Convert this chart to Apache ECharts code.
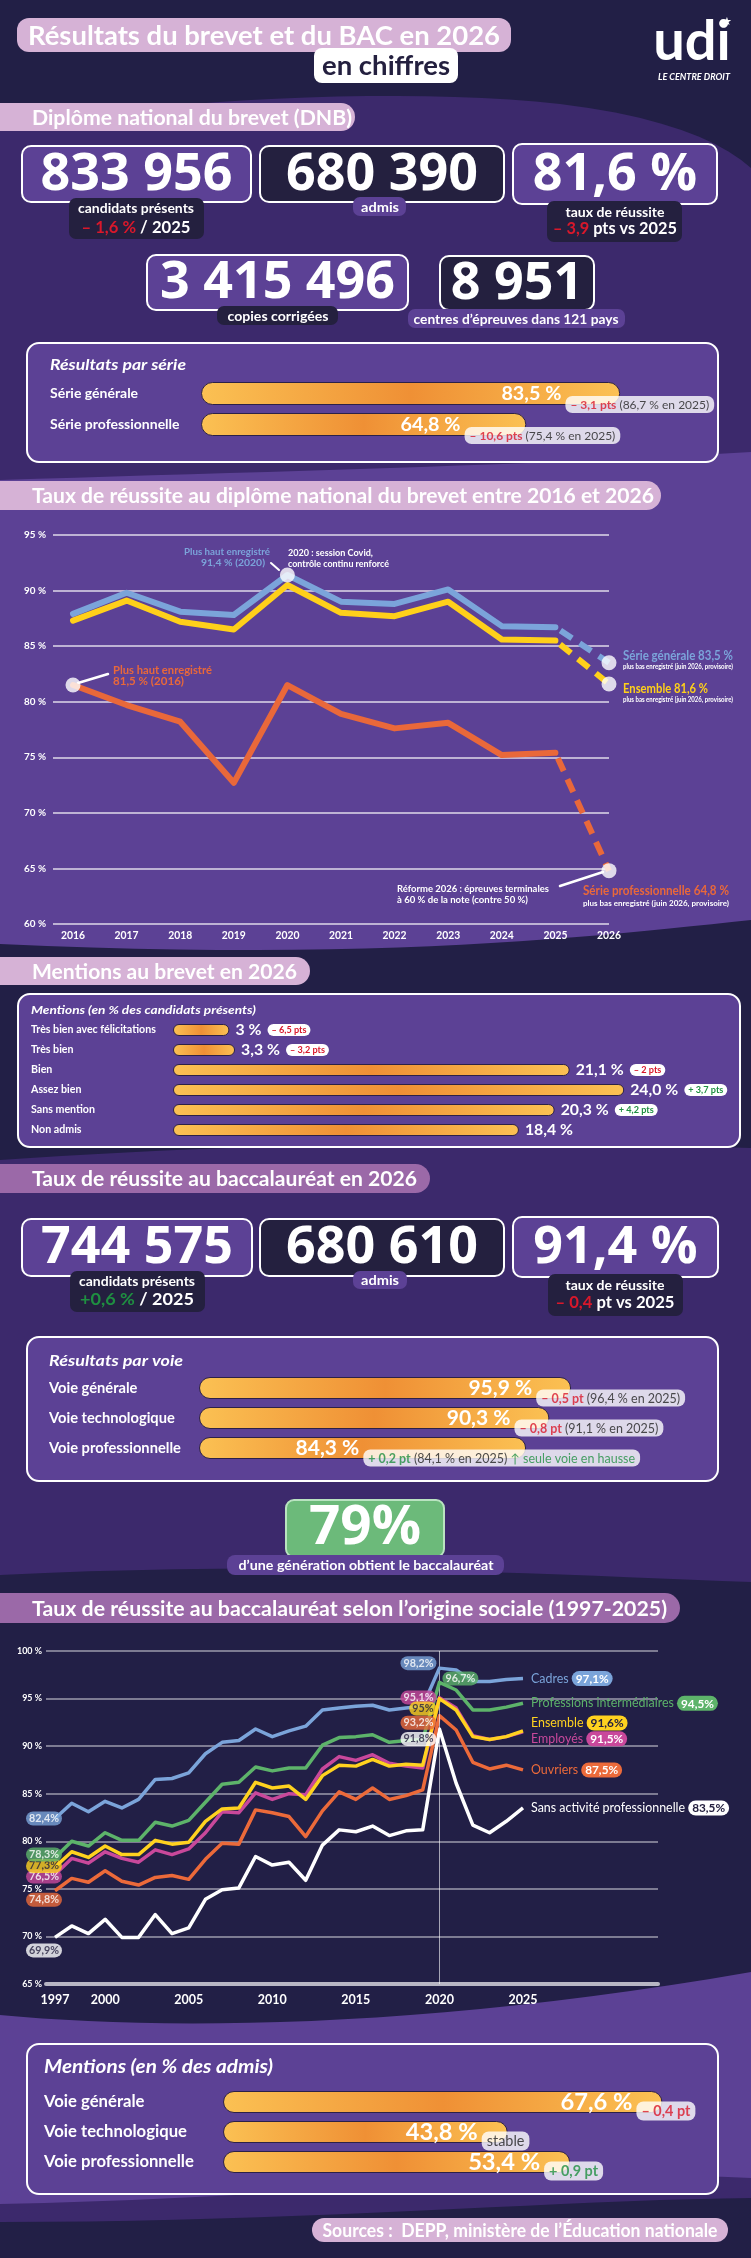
<!DOCTYPE html>
<html><head><meta charset="utf-8">
<script src="https://cdn.jsdelivr.net/npm/echarts@6/dist/echarts.min.js"></script>
<style>html,body{margin:0;padding:0;background:#221f46;}#c{width:751px;height:2258px;}</style>
</head><body><div id="c"></div>
<script>
// ---------- DATA ----------
const dnbYears = [2016, 2017, 2018, 2019, 2020, 2021, 2022, 2023, 2024, 2025, 2026];
const dnbGenerale = [87.9, 89.8, 88.1, 87.8, 91.4, 89.0, 88.8, 90.1, 86.8, 86.7, 83.5];
const dnbEnsemble = [87.3, 89.1, 87.2, 86.5, 90.5, 88.0, 87.7, 89.0, 85.6, 85.5, 81.6];
const dnbPro = [81.5, 79.7, 78.2, 72.7, 81.5, 78.9, 77.6, 78.1, 75.2, 75.4, 64.8];
const dnbYTicks = [60, 65, 70, 75, 80, 85, 90, 95];

const serieCats = ['Série générale', 'Série professionnelle'];
const serieValues = [83.5, 64.8];
const serieLabels = ['83,5 %', '64,8 %'];
const serieDelta = ['– 3,1 pts', '– 10,6 pts'];
const serieRef = [' (86,7 % en 2025)', ' (75,4 % en 2025)'];

const mentionCats = ['Très bien avec félicitations', 'Très bien', 'Bien', 'Assez bien', 'Sans mention', 'Non admis'];
const mentionValues = [3, 3.3, 21.1, 24.0, 20.3, 18.4];
const mentionLabels = ['3 %', '3,3 %', '21,1 %', '24,0 %', '20,3 %', '18,4 %'];
const mentionDelta = ['– 6,5 pts', '– 3,2 pts', '– 2 pts', '+ 3,7 pts', '+ 4,2 pts', ''];

const voieCats = ['Voie générale', 'Voie technologique', 'Voie professionnelle'];
const voieValues = [95.9, 90.3, 84.3];
const voieLabels = ['95,9 %', '90,3 %', '84,3 %'];
const voieDelta = ['– 0,5 pt', '– 0,8 pt', '+ 0,2 pt'];
const voieRef = [' (96,4 % en 2025)', ' (91,1 % en 2025)', ' (84,1 % en 2025)'];
const voieNote = ['', '', ' ↑ seule voie en hausse'];

const socialYears = [1997, 1998, 1999, 2000, 2001, 2002, 2003, 2004, 2005, 2006, 2007, 2008, 2009, 2010, 2011, 2012, 2013, 2014, 2015, 2016, 2017, 2018, 2019, 2020, 2021, 2022, 2023, 2024, 2025];
const socialXTicks = [1997, 2000, 2005, 2010, 2015, 2020, 2025];
const cadres = [82.4, 84.0, 83.1, 84.2, 83.5, 84.4, 86.5, 86.6, 87.2, 89.2, 90.4, 90.6, 91.8, 91.0, 91.6, 92.1, 93.8, 94.0, 94.2, 94.3, 93.8, 94.0, 94.2, 98.2, 98.0, 96.8, 96.8, 97.0, 97.1];
const intermediaires = [78.3, 80.0, 79.5, 80.9, 80.1, 80.1, 82.0, 81.6, 82.2, 84.1, 86.0, 86.2, 87.8, 87.4, 87.7, 87.7, 90.1, 90.9, 91.0, 91.2, 90.4, 90.6, 90.7, 96.7, 95.9, 93.8, 93.8, 94.1, 94.5];
const ensemble = [77.3, 78.9, 78.3, 79.5, 78.6, 78.6, 80.1, 79.7, 79.9, 82.1, 83.4, 83.5, 86.2, 85.6, 85.8, 84.4, 86.9, 88.0, 87.9, 88.6, 87.9, 88.1, 88.0, 95.0, 93.8, 91.0, 90.7, 91.0, 91.6];
const employes = [76.5, 78.2, 77.7, 78.9, 78.2, 77.8, 79.1, 78.6, 79.2, 80.9, 83.1, 83.0, 85.1, 84.4, 85.0, 84.9, 87.6, 88.9, 88.5, 89.1, 88.2, 87.9, 87.7, 95.1, 94.0, 91.1, 90.7, 91.0, 91.5];
const ouvriers = [74.8, 76.1, 75.7, 76.9, 75.8, 75.4, 76.2, 76.4, 76.0, 78.1, 79.8, 79.7, 83.3, 83.0, 82.6, 80.5, 83.2, 85.2, 84.4, 85.6, 84.4, 84.8, 85.4, 93.2, 91.7, 88.3, 87.6, 88.0, 87.5];
const sansActivite = [69.9, 71.1, 70.3, 71.8, 69.9, 69.9, 72.3, 70.3, 70.9, 73.9, 74.9, 75.1, 78.4, 77.5, 77.8, 75.9, 79.6, 81.2, 81.0, 81.6, 80.6, 81.1, 81.2, 91.8, 86.1, 81.7, 80.9, 82.1, 83.5];

const bacMentionCats = ['Voie générale', 'Voie technologique', 'Voie professionnelle'];
const bacMentionValues = [67.6, 43.8, 53.4];
const bacMentionLabels = ['67,6 %', '43,8 %', '53,4 %'];
const bacMentionDelta = ['– 0,4 pt', 'stable', '+ 0,9 pt'];

// ---------- FONTS ----------
function hasFont(n){const c=document.createElement('canvas').getContext('2d');const s='mmmmmmmmmwwwwwwlli1234567';c.font='40px monospace';const a=c.measureText(s).width;c.font='40px "'+n+'", monospace';return Math.abs(c.measureText(s).width-a)>0.5;}
const COND = hasFont('Liberation Sans Narrow') ? '"Liberation Sans Narrow"' : 'Lato';
const FF = COND + ', Lato, sans-serif';
const FN = '"Open Sans", Lato, sans-serif';
const mctx = document.createElement('canvas').getContext('2d');
function measure(t, size, weight, fam){ mctx.font = (weight||'normal') + ' ' + size + 'px ' + (fam||FF); return mctx.measureText(t).width; }
function fit(t, weight, target, maxSize){ const s = 20*target/measure(t,20,weight); return Math.min(s, maxSize||99); }

// ---------- COLOURS ----------
const NAVY='#221f46', PURP='#3c296c', LPURP='#5c4195', PINK='#d6b2d6', MAUVE='#9b69a8', RED='#d9182b', GREEN='#1f8f41', DARK='#24203f';

// ---------- GRAPHIC HELPERS ----------
const G=[];
function R(x,y,w,h,fill,r,stroke,lw){G.push({type:'rect',silent:true,shape:{x:x,y:y,width:w,height:h,r:r||0},style:{fill:fill,stroke:stroke||null,lineWidth:lw||0}});}
function poly(points,fill){G.push({type:'polygon',silent:true,shape:{points:points},style:{fill:fill}});}
function bez(p0,p1,p2,p3,n){const a=[];for(let i=0;i<=n;i++){const t=i/n,u=1-t;a.push([u*u*u*p0[0]+3*u*u*t*p1[0]+3*u*t*t*p2[0]+t*t*t*p3[0],u*u*u*p0[1]+3*u*u*t*p1[1]+3*u*t*t*p2[1]+t*t*t*p3[1]]);}return a;}
// text: size, weight, fill, align, target width (horizontal condensation)
function T(x,y,text,size,weight,fill,align,tw,extra,fam){
  const f=fam||FF;
  const el={type:'text',silent:true,x:x,y:y,style:Object.assign({text:text,font:weight+' '+size+'px '+f,fill:fill||'#fff',textAlign:align||'left',align:align||'left',textVerticalAlign:'middle',verticalAlign:'middle'},extra||{})};
  if(tw){const w=measure((extra&&extra.plain)||text,size,weight,f);el.scaleX=tw/w;}
  if(extra&&extra.plain){delete el.style.plain;}
  G.push(el);
}
function L(x1,y1,x2,y2,color,w){G.push({type:'line',silent:true,shape:{x1:x1,y1:y1,x2:x2,y2:y2},style:{stroke:color,lineWidth:w,lineCap:'round'}});}
function band(x,y,w,h,fill,text,tw){R(x-14,y,w+14,h,fill,[0,h/2,h/2,0]);T(32,y+h/2+1,text,21,'bold','#fff','left',tw);}
function statBox(x,y,w,h,fill,num){R(x,y,w,h,fill,9,'#ffffff',2);T(x+w/2,y+h/2+1,num,52,'bold','#fff','center',null,null,FN);}
function richT(x,y,parts,size,tw){ // parts: [[text,color],...]
  const rich={};let s='',plain='';parts.forEach(function(p,i){rich['p'+i]={fill:p[1],font:'bold '+size+'px '+FF};s+='{p'+i+'|'+p[0]+'}';plain+=p[0];});
  T(x,y,s,size,'bold','#fff','center',tw,{rich:rich,plain:plain});
}

// ---------- BACKGROUND ----------
R(0,0,751,2258,NAVY);
poly([[0,490]].concat(bez([0,128],[150,100],[400,86],[560,104],20)).concat(bez([560,104],[660,116],[720,140],[751,168],10)).concat([[751,490]]),PURP);
poly(bez([0,480],[250,472],[520,466],[751,452],20).concat(bez([751,920],[600,936],[380,962],[0,944],24)),LPURP);
poly(bez([0,1160],[200,1146],[450,1138],[751,1148],20).concat(bez([751,1582],[560,1575],[300,1560],[0,1575],20)),PURP);
poly(bez([0,2015],[160,2030],[420,2030],[751,1972],24).concat(bez([751,2180],[560,2170],[300,2200],[0,2205],20)),LPURP);
poly(bez([0,2204],[300,2198],[560,2168],[751,2178],20).concat(bez([751,2198],[560,2200],[300,2222],[0,2222],20)),PURP);

// ---------- HEADER ----------
R(17,18,494,34,PINK,12);
T(264,36,'Résultats du brevet et du BAC en 2026',27,'bold','#fff','center',472);
R(314,48,144,35,'#ffffff',8);
T(386,66,'en chiffres',27,'bold',DARK,'center',128);
T(692,42,'udi',56,'bold','#fff','center',null,null,'Lato');
T(727,22,'★',11,'normal','#fff','center',null,null,'"DejaVu Sans"');
T(694,77,'LE CENTRE DROIT',9,'italic bold','#fff','center',72);

// ---------- DNB FIGURES ----------
band(0,103,355,28,PINK,'Diplôme national du brevet (DNB)',320);
statBox(22,146,229,56,LPURP,'833 956');
R(69,198,135,41,DARK,7);
T(136,208,'candidats présents',14,'bold','#fff','center',116);
richT(136,228,[['– 1,6 %',RED],[' / 2025','#fff']],17,109);
statBox(260,146,244,56,DARK,'680 390');
R(353,197,53,19,LPURP,7);
T(380,207,'admis',14,'bold','#fff','center',38);
statBox(513,144,204,60,LPURP,'81,6 %');
R(547,201,135,41,DARK,7);
T(615,212,'taux de réussite',14,'bold','#fff','center',99);
richT(615,229,[['– 3,9',RED],[' pts vs 2025','#fff']],17,124);
statBox(147,255,261,55,LPURP,'3 415 496');
R(217,306,121,19,DARK,7);
T(278,316,'copies corrigées',14,'bold','#fff','center',101);
statBox(440,256,154,54,DARK,'8 951');
R(408,309,217,19,LPURP,7);
T(516,319,'centres d’épreuves dans 121 pays',14,'bold','#fff','center',205);

R(27,343,691,119,LPURP,12,'#ffffff',2);
T(50,365,'Résultats par série',15,'italic bold','#fff','left',136);

// ---------- DNB LINE CHART DECOR ----------
band(0,481,661,29,PINK,'Taux de réussite au diplôme national du brevet entre 2016 et 2026',622);
T(270,552,'Plus haut enregistré',10,'bold','#7ba4da','right',86);
T(265,563,'91,4 % (2020)',10,'bold','#7ba4da','right',64);
T(288,553,'2020 : session Covid,',9.5,'bold','#fff','left',85);
T(288,564,'contrôle continu renforcé',9.5,'bold','#fff','left',101);
L(279,570,271,563,'#ffffff',2);
T(113,670,'Plus haut enregistré',12,'bold','#e9683a','left',99);
T(113,681,'81,5 % (2016)',12,'bold','#e9683a','left',71);
L(78,683,108,674,'#ffffff',2.5);
T(623,656,'Série générale 83,5 %',13,'bold','#7ba4da','left',110);
T(623,667,'plus bas enregistré (juin 2026, provisoire)',6.5,'bold','#fff','left',110);
T(623,689,'Ensemble 81,6 %',13,'bold','#ffd01a','left',85);
T(623,700,'plus bas enregistré (juin 2026, provisoire)',6.5,'bold','#fff','left',110);
T(397,889,'Réforme 2026 : épreuves terminales',9.5,'bold','#fff','left',152);
T(397,900,'à 60 % de la note (contre 50 %)',9.5,'bold','#fff','left',131);
L(560,886,603,872,'#ffffff',2.5);
T(583,891,'Série professionnelle 64,8 %',13,'bold','#e9683a','left',146);
T(583,904,'plus bas enregistré (juin 2026, provisoire)',7,'bold','#fff','left',146);

// ---------- MENTIONS BREVET ----------
band(0,957,310,28,PINK,'Mentions au brevet en 2026',265);
R(18,994,722,153,LPURP,12,'#ffffff',2);
T(31,1010,'Mentions (en % des candidats présents)',12,'italic bold','#fff','left',225);

// ---------- BAC FIGURES ----------
band(0,1164,430,29,MAUVE,'Taux de réussite au baccalauréat en 2026',385);
statBox(22,1219,230,57,LPURP,'744 575');
R(70,1271,135,41,DARK,7);
T(137,1281,'candidats présents',14,'bold','#fff','center',116);
richT(137,1300,[['+0,6 %',GREEN],[' / 2025','#fff']],17,114);
statBox(260,1219,244,57,DARK,'680 610');
R(353,1271,54,18,LPURP,7);
T(380,1280,'admis',14,'bold','#fff','center',38);
statBox(513,1217,205,60,LPURP,'91,4 %');
R(548,1274,135,42,DARK,7);
T(615,1285,'taux de réussite',14,'bold','#fff','center',99);
richT(615,1303,[['– 0,4',RED],[' pt vs 2025','#fff']],17,119);
R(27,1337,691,144,LPURP,12,'#ffffff',2);
T(49,1361,'Résultats par voie',15,'italic bold','#fff','left',134);
R(286,1500,158,57,'#6cba7a',8,'#b9e3c0',2);
T(365,1529,'79%',54,'bold','#fff','center',112,null,FN);
R(227,1555,277,20,LPURP,8);
T(366,1565,'d’une génération obtient le baccalauréat',14,'bold','#fff','center',255);

// ---------- SOCIAL ----------
band(0,1593,680,30,MAUVE,'Taux de réussite au baccalauréat selon l’origine sociale (1997-2025)',635);

// ---------- BAC MENTIONS ----------
R(27,2044,691,150,LPURP,12,'#ffffff',2);
T(44,2067,'Mentions (en % des admis)',18,'italic bold','#fff','left',229);
R(312,2218,416,24,PINK,12);
T(520,2231,'Sources :  DEPP, ministère de l’Éducation nationale',18,'bold','#fff','center',395);

// ---------- SERIES ----------
const S=[];
const grids=[], xAxes=[], yAxes=[];
function grid(l,t,w,h){grids.push({left:l,top:t,width:w,height:h,containLabel:false,outerBoundsMode:'none'});return grids.length-1;}

// DNB line chart
const g0 = grid(53,535,556,389);
xAxes.push({gridIndex:g0,type:'value',min:dnbYears[0]-20/53.6,max:dnbYears[dnbYears.length-1],axisLine:{show:false},axisTick:{show:false},splitLine:{show:false},
  axisLabel:{customValues:dnbYears,color:'#fff',fontSize:fit('2016','bold',24,13),fontWeight:'bold',fontFamily:FF,margin:7,formatter:v=>String(Math.round(v))}});
yAxes.push({gridIndex:g0,type:'value',min:dnbYTicks[0],max:dnbYTicks[dnbYTicks.length-1],interval:5,axisLine:{show:false},axisTick:{show:false},
  axisLabel:{color:'#fff',fontSize:fit('95 %','bold',22,12),fontWeight:'bold',fontFamily:FF,margin:7,formatter:'{value} %'},
  splitLine:{lineStyle:{color:'rgba(255,255,255,0.8)',width:1.5}}});
function pairs(xs,ys,a,b){const o=[];for(let i=a;i<=b;i++)o.push([xs[i],ys[i]]);return o;}
const dl=dnbYears.length-1;
[[dnbGenerale,'#7ba4da',3],[dnbEnsemble,'#ffd01a',4],[dnbPro,'#e9683a',4]].forEach(function(c){
  S.push({type:'line',xAxisIndex:g0,yAxisIndex:g0,silent:true,showSymbol:false,symbol:'none',z:c[2],data:pairs(dnbYears,c[0],0,dl-1),lineStyle:{color:c[1],width:6,cap:'round',join:'round'}});
  S.push({type:'line',xAxisIndex:g0,yAxisIndex:g0,silent:true,showSymbol:false,symbol:'none',z:c[2],data:pairs(dnbYears,c[0],dl-1,dl),lineStyle:{color:c[1],width:6,type:[14,9],dashOffset:-6,cap:'butt'}});
});
const gMax = dnbGenerale.indexOf(Math.max.apply(null,dnbGenerale.slice(0,dl)));
S.push({type:'scatter',xAxisIndex:g0,yAxisIndex:g0,silent:true,z:10,symbolSize:15,itemStyle:{color:'#fff'},
  data:[[dnbYears[0],dnbPro[0]],[dnbYears[gMax],dnbGenerale[gMax]],[dnbYears[dl],dnbGenerale[dl]],[dnbYears[dl],dnbEnsemble[dl]],[dnbYears[dl],dnbPro[dl]]]});

// bar helpers
const barGrad={type:'linear',x:0,y:0,x2:1,y2:0,colorStops:[{offset:0,color:'#fbc153'},{offset:0.5,color:'#ef9035'},{offset:1,color:'#fbc153'}]};
function catAxis(gi,cats,size,margin){yAxes.push({gridIndex:gi,type:'category',data:cats,inverse:true,axisLine:{show:false},axisTick:{show:false},splitLine:{show:false},
  axisLabel:{color:'#fff',fontWeight:'bold',fontSize:size,fontFamily:FF,align:'left',margin:margin}});}
function valAxis(gi,max){xAxes.push({gridIndex:gi,type:'value',min:0,max:max,show:false});}
function dcls(d){return d.charAt(0)==='+'?'dg':((d.charAt(0)==='–'||d.charAt(0)==='-')?'dr':'dk');}
function badgeBlock(gi,values,labels,size,barW,bSize,deltas,refs,notes,tail,minInset,dy){
  const widths=values.map(function(v,i){return measure(deltas[i],bSize,'bold')+(refs?measure(refs[i],bSize):0)+(notes?measure(notes[i],bSize):0)+10;});
  const insets=widths.map(function(w){return Math.max(minInset,w-tail);});
  S.push({type:'bar',xAxisIndex:gi,yAxisIndex:gi,silent:true,barWidth:barW,z:3,
    data:values.map(function(v,i){return {value:v,label:{distance:insets[i]}};}),
    itemStyle:{color:barGrad,borderColor:'#2c2148',borderWidth:1,borderRadius:barW/2},
    label:{show:true,position:'insideRight',color:'#fff',fontWeight:'bold',fontSize:size,fontFamily:FF,formatter:function(p){return labels[p.dataIndex];}}});
  S.push({type:'scatter',xAxisIndex:gi,yAxisIndex:gi,silent:true,symbolSize:0,z:6,
    data:values.map(function(v,i){return {value:[v,i],label:{offset:[-insets[i]+4,dy]}};}),
    label:{show:true,position:'right',distance:0,backgroundColor:'#fff',borderRadius:7,padding:[3,5,2,5],
      formatter:function(p){const i=p.dataIndex;let s='{'+dcls(deltas[i])+'|'+deltas[i]+'}';if(refs&&refs[i])s+='{r|'+refs[i]+'}';if(notes&&notes[i])s+='{g|'+notes[i]+'}';return s;},
      rich:{dr:{color:RED,fontWeight:'bold',fontSize:bSize,fontFamily:FF},dg:{color:GREEN,fontWeight:'bold',fontSize:bSize,fontFamily:FF},dk:{color:'#222',fontSize:bSize,fontFamily:FF},
        r:{color:'#222',fontSize:bSize,fontFamily:FF},g:{color:GREEN,fontSize:bSize,fontFamily:FF}}}});
}

// Résultats par série
const g1=grid(201,378,502,62); valAxis(g1,100); catAxis(g1,serieCats,fit('Série professionnelle','bold',134,14),151);
badgeBlock(g1,serieValues,serieLabels,fit('83,5 %','bold',60,21),23,fit('– 3,1 pts (86,7 % en 2025)','normal',142,12),serieDelta,serieRef,null,90,30,11);

// Mentions brevet
const g2=grid(173,1020,564,120); valAxis(g2,30); catAxis(g2,mentionCats,fit('Très bien avec félicitations','bold',125,11),142);
const mbSize=fit('– 6,5 pts','bold',35,10);
S.push({type:'bar',xAxisIndex:g2,yAxisIndex:g2,silent:true,barWidth:12,z:3,data:mentionValues,
  itemStyle:{color:barGrad,borderColor:'#2c2148',borderWidth:1,borderRadius:6},
  label:{show:true,position:'right',distance:6,formatter:function(p){const i=p.dataIndex;let s='{v|'+mentionLabels[i]+'}';if(mentionDelta[i])s+='  {'+(dcls(mentionDelta[i])==='dg'?'bg':'br')+'|'+mentionDelta[i]+'}';return s;},
    rich:{v:{color:'#fff',fontSize:fit('24,0 %','bold',48,16),fontWeight:'bold',fontFamily:FF},
      br:{color:RED,backgroundColor:'#fff',borderRadius:6,padding:[2,4,1,4],fontSize:mbSize,fontWeight:'bold',fontFamily:FF},
      bg:{color:GREEN,backgroundColor:'#fff',borderRadius:6,padding:[2,4,1,4],fontSize:mbSize,fontWeight:'bold',fontFamily:FF}}}});

// Résultats par voie
const g3=grid(199,1373,388,90); valAxis(g3,100); catAxis(g3,voieCats,fit('Voie professionnelle','bold',132,15),150);
badgeBlock(g3,voieValues,voieLabels,fit('95,9 %','bold',64,21),22,fit('– 0,5 pt (96,4 % en 2025)','normal',139,13),voieDelta,voieRef,voieNote,110,27,10);

// Social origin chart
const g4=grid(46,1651,612,333);
xAxes.push({gridIndex:g4,type:'value',min:socialYears[0]-9/16.714,max:2025+135/16.714,splitLine:{show:false},axisTick:{show:false},
  axisLine:{show:true,lineStyle:{color:'#b8b6c4',width:4}},
  axisLabel:{customValues:socialXTicks,color:'#fff',fontSize:fit('2005','bold',29,13),fontWeight:'bold',fontFamily:FF,margin:9,formatter:function(v){return String(Math.round(v));}}});
yAxes.push({gridIndex:g4,type:'value',min:65,max:100,interval:5,axisLine:{show:false},axisTick:{show:false},
  axisLabel:{color:'#fff',fontSize:fit('100 %','bold',25,10),fontWeight:'bold',fontFamily:FF,margin:4,formatter:'{value} %'},
  splitLine:{lineStyle:{color:'rgba(255,255,255,0.55)',width:1.5}}});
const socialCfg=[
  {name:'Sans activité professionnelle',data:sansActivite,color:'#ffffff',txt:DARK,endDy:0,startDy:13,peakDy:10,peakSide:'left'},
  {name:'Ouvriers',data:ouvriers,color:'#ec6a3a',txt:'#fff',endDy:0,startDy:9,peakDy:7,peakSide:'left'},
  {name:'Employés',data:employes,color:'#c9489b',txt:'#fff',endDy:7,startDy:2,peakDy:0,peakSide:'left'},
  {name:'Ensemble',data:ensemble,color:'#ffd21f',txt:DARK,endDy:-8,startDy:-1,peakDy:10,peakSide:'left'},
  {name:'Professions intermédiaires',data:intermediaires,color:'#5db36a',txt:'#fff',endDy:0,startDy:-3,peakDy:-4,peakSide:'right'},
  {name:'Cadres',data:cadres,color:'#7ba4da',txt:'#fff',endDy:0,startDy:0,peakDy:-5,peakSide:'left'}
];
function fmtPct(v){return (Math.round(v*10)%10===0?String(Math.round(v)):v.toFixed(1).replace('.',','))+'%';}
const nameSize=fit('Professions intermédiaires','normal',143,14);
const endPill=fit('97,1%','bold',33,14);
const smallPill=fit('82,4%','bold',30,11);
const peakIdx=socialYears.indexOf(2020);
const lblItems=[];
socialCfg.forEach(function(c,k){
  const s={type:'line',name:c.name,xAxisIndex:g4,yAxisIndex:g4,silent:true,showSymbol:false,symbol:'none',z:3+k,
    data:socialYears.map(function(y,i){return [y,c.data[i]];}),
    lineStyle:{color:c.color,width:3.5,join:'round'},
    endLabel:{show:true,distance:8,offset:[0,c.endDy],formatter:function(){return '{n|'+c.name+'} {p|'+fmtPct(c.data[c.data.length-1])+'}';},
      rich:{n:{color:c.color,fontSize:nameSize,fontFamily:FF},p:{backgroundColor:c.color,color:c.txt,borderRadius:8,padding:[2,4,1,4],fontSize:endPill,fontWeight:'bold',fontFamily:FF}}}};
  if(k===0){s.markLine={silent:true,symbol:['none','none'],label:{show:false},lineStyle:{color:'rgba(255,255,255,0.6)',width:1,type:'solid'},data:[{xAxis:2020}]};}
  S.push(s);
  const pill={backgroundColor:c.color,color:c.txt,borderRadius:7,padding:[2,3,1,3],fontSize:smallPill,fontWeight:'bold',fontFamily:FF};
  lblItems.push({value:[socialYears[0],c.data[0]],label:Object.assign({show:true,position:'inside',offset:[-11,c.startDy],formatter:fmtPct(c.data[0])},pill)});
  lblItems.push({value:[socialYears[peakIdx],c.data[peakIdx]],label:Object.assign({show:true,position:c.peakSide,distance:3,offset:[0,c.peakDy],formatter:fmtPct(c.data[peakIdx])},pill)});
});
S.push({type:'scatter',xAxisIndex:g4,yAxisIndex:g4,silent:true,symbolSize:0,z:20,data:lblItems});

// Mentions bac
const g5=grid(223,2087,455,90); valAxis(g5,70); catAxis(g5,bacMentionCats,fit('Voie professionnelle','bold',150,17),179);
badgeBlock(g5,bacMentionValues,bacMentionLabels,fit('67,6 %','bold',72,24),22,fit('– 0,4 pt','bold',49,15),bacMentionDelta,null,null,33,30,9);

const chart=echarts.init(document.getElementById('c'),null,{renderer:'canvas',width:751,height:2258});
chart.setOption({animation:false,backgroundColor:NAVY,textStyle:{fontFamily:FF},
  graphic:{elements:G},grid:grids,xAxis:xAxes,yAxis:yAxes,series:S});
</script></body></html>
